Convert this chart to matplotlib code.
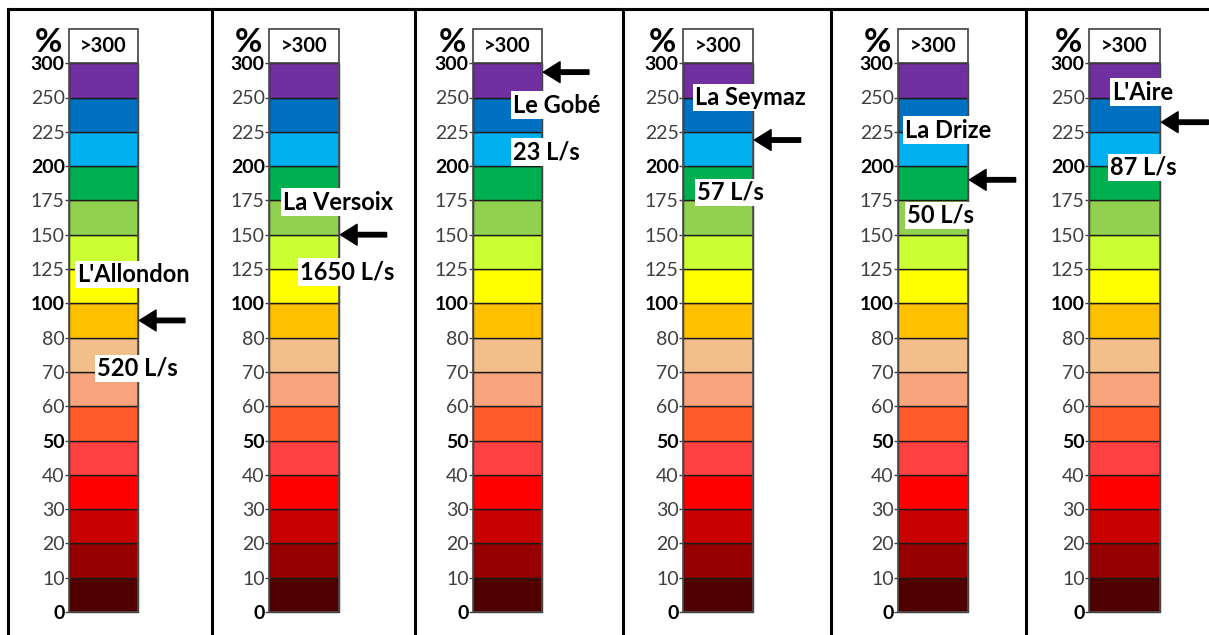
import numpy as np
import matplotlib
matplotlib.use('Agg')
import matplotlib.pyplot as plt
from matplotlib.lines import Line2D

plt.rcParams['font.family'] = ['Lato', 'DejaVu Sans']

# Échelle des débits (% de la normale)
levels = [0, 10, 20, 30, 40, 50, 60, 70, 80, 100, 125, 150, 175, 200, 225, 250, 300]
bold_levels = [0, 50, 100, 200, 300]
colors = ['#500000', '#960000', '#C80000', '#FF0000', '#FF4040', '#FF5B2B',
          '#F8A47C', '#F2BE8A', '#FFC000', '#FFFF00', '#CCFF33', '#92D050',
          '#00B050', '#00B0F0', '#0070C0', '#7030A0']

rivers = ["L'Allondon", "La Versoix", "Le Gobé", "La Seymaz", "La Drize", "L'Aire"]
flows = ["520 L/s", "1650 L/s", "23 L/s", "57 L/s", "50 L/s", "87 L/s"]
percent = [90, 150, 287, 219, 190, 232]

# mise en page (pixels)
W, H = 1209, 635
bar_left = [69, 269, 473, 683, 898, 1089]
bar_width = [69, 70, 69, 70, 70, 71]
borders = [8, 212, 415, 623, 831, 1026]
name_pos = [(0.12, 9.83), (0.20, 11.95), (0.58, 14.78), (0.17, 14.99), (0.10, 14.05), (0.32, 15.16)]
flow_pos = [(0.41, 7.11), (0.44, 9.91), (0.58, 13.41), (0.20, 12.24), (0.13, 11.57), (0.30, 12.97)]

y0, unit = 612, 34.3

fig = plt.figure(figsize=(W / 100, H / 100), dpi=100)

for k in range(6):
    ax = fig.add_axes([bar_left[k] / W, (H - y0) / H, bar_width[k] / W, 17 * unit / H])
    ax.bar(np.zeros(16), np.ones(16), bottom=np.arange(16), width=1, align='edge',
           color=colors, edgecolor='#1a1a1a', linewidth=1, clip_on=False)
    ax.bar([0], [1], bottom=[16], width=1, align='edge', color='white',
           edgecolor='#404040', linewidth=1.2, clip_on=False)
    ax.plot([0, 0, 1, 1], [16, 0, 0, 16], color='#505050', lw=1.2, clip_on=False)
    ax.text(0.5, 16.5, '>300', ha='center', va='center', fontsize=14.5, fontweight='bold')
    ax.set_xlim(0, 1)
    ax.set_ylim(0, 17)
    ax.set_xticks([])
    ax.set_yticks(range(17))
    ax.set_yticklabels([str(v) for v in levels], fontsize=14)
    for lab, v in zip(ax.get_yticklabels(), levels):
        if v in bold_levels:
            lab.set_fontweight('bold')
            lab.set_color('black')
        else:
            lab.set_color('#404040')
    ax.tick_params(axis='y', length=3, width=1, color='#404040', pad=0)
    for s in ax.spines.values():
        s.set_visible(False)
    ax.text(-0.1, 16.6, '%', ha='right', va='center', fontsize=24, fontweight='bold')

    idx = np.interp(percent[k], levels, np.arange(17))
    ax.annotate('', xy=(1.02, idx), xytext=(1.68, idx),
                arrowprops=dict(width=3.2, headwidth=15, headlength=12, color='black', shrink=0),
                annotation_clip=False)

    bb = dict(facecolor='white', edgecolor='none', pad=1.5)
    ax.text(name_pos[k][0], name_pos[k][1], rivers[k], ha='left', va='center',
            fontsize=17, fontweight='bold', bbox=bb, clip_on=False, zorder=5)
    ax.text(flow_pos[k][0], flow_pos[k][1], flows[k], ha='left', va='center',
            fontsize=17, fontweight='bold', bbox=bb, clip_on=False, zorder=5)

# cadres des panneaux
for x in borders:
    fig.add_artist(Line2D([x / W, x / W], [0, 1 - 9 / H], color='black', lw=2.2))
fig.add_artist(Line2D([8 / W, 1], [1 - 9 / H, 1 - 9 / H], color='black', lw=2.2))

fig.savefig('out.png', dpi=100)
